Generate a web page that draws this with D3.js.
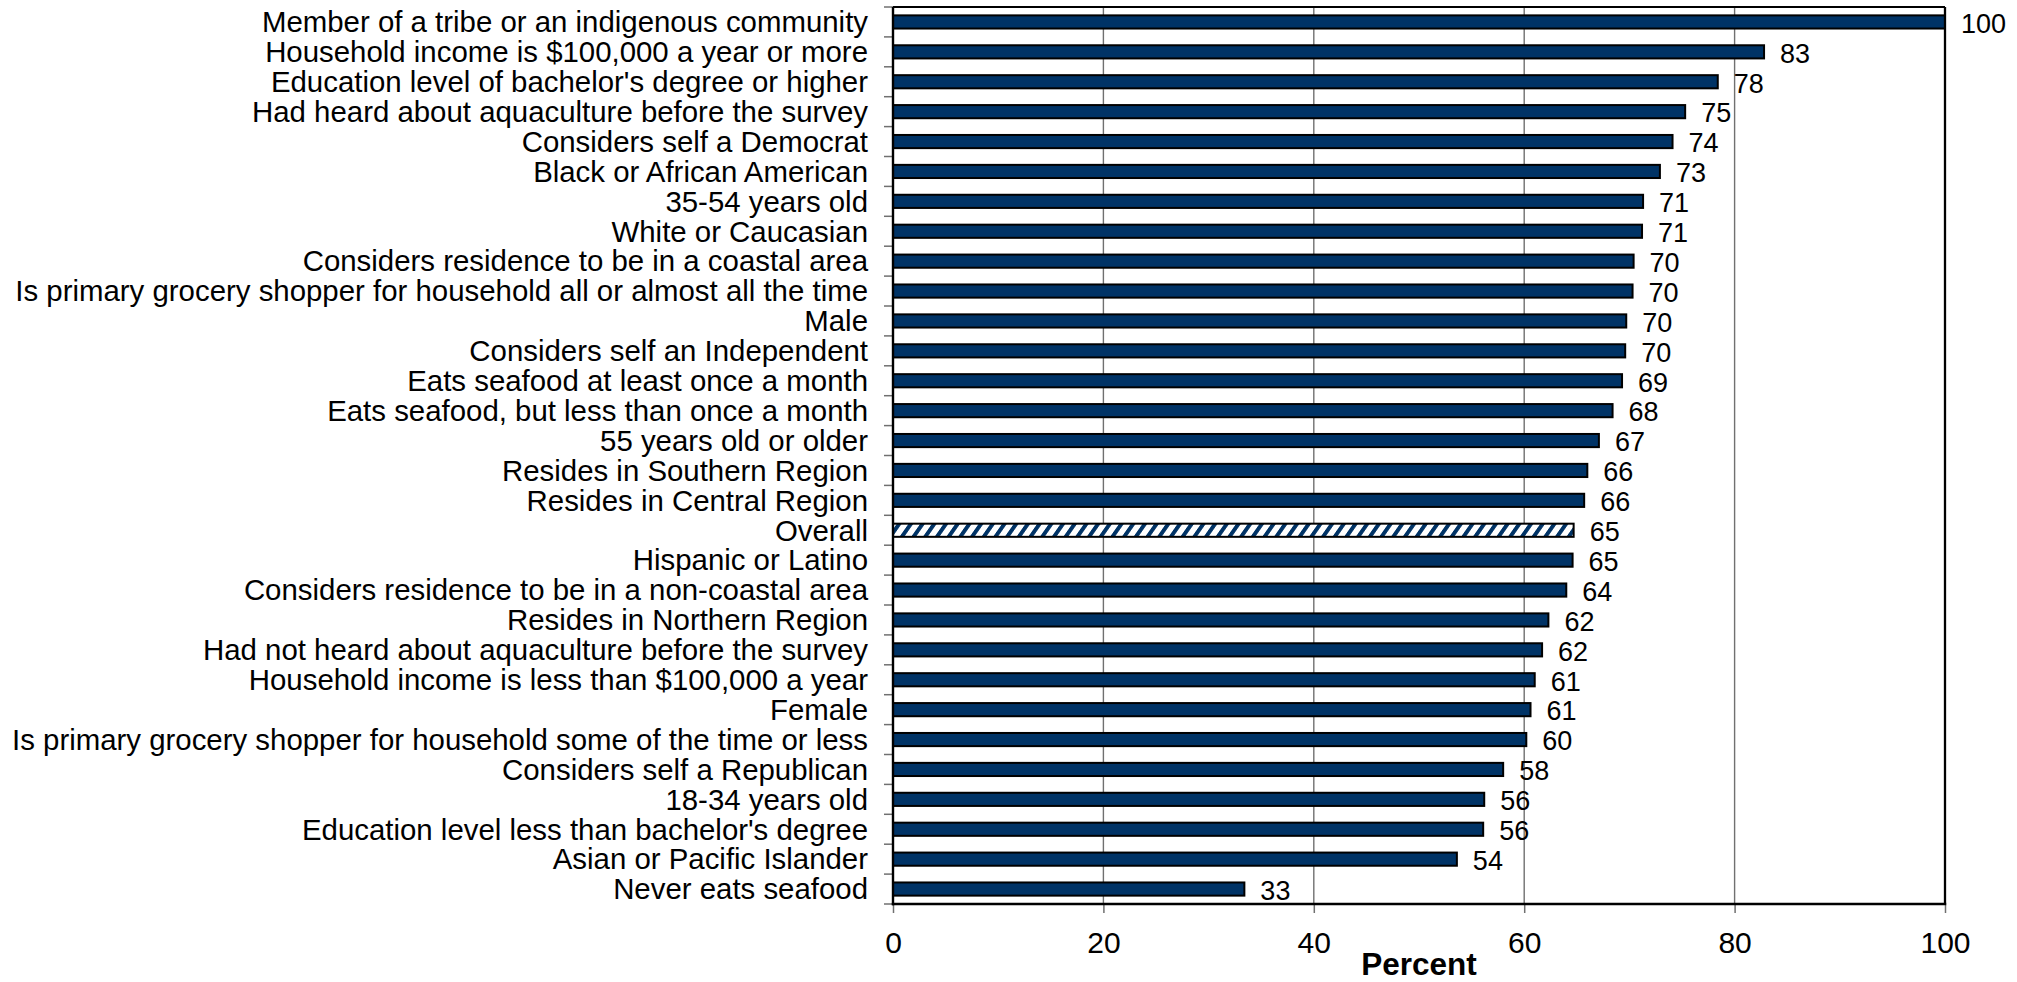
<!DOCTYPE html>
<html>
<head>
<meta charset="utf-8">
<script src="https://cdn.jsdelivr.net/npm/d3@7/dist/d3.min.js"></script>
<style>
  html, body { margin: 0; padding: 0; background: #ffffff; }
  svg { display: block; font-family: "Liberation Sans", Arial, Helvetica, sans-serif; }
</style>
</head>
<body>
<svg id="chart" width="2017" height="982"></svg>
<script>
const categories = [
  "Member of a tribe or an indigenous community",
  "Household income is $100,000 a year or more",
  "Education level of bachelor's degree or higher",
  "Had heard about aquaculture before the survey",
  "Considers self a Democrat",
  "Black or African American",
  "35-54 years old",
  "White or Caucasian",
  "Considers residence to be in a coastal area",
  "Is primary grocery shopper for household all or almost all the time",
  "Male",
  "Considers self an Independent",
  "Eats seafood at least once a month",
  "Eats seafood, but less than once a month",
  "55 years old or older",
  "Resides in Southern Region",
  "Resides in Central Region",
  "Overall",
  "Hispanic or Latino",
  "Considers residence to be in a non-coastal area",
  "Resides in Northern Region",
  "Had not heard about aquaculture before the survey",
  "Household income is less than $100,000 a year",
  "Female",
  "Is primary grocery shopper for household some of the time or less",
  "Considers self a Republican",
  "18-34 years old",
  "Education level less than bachelor's degree",
  "Asian or Pacific Islander",
  "Never eats seafood"
];
const values = [
  100, 82.8, 78.4, 75.3, 74.1, 72.9, 71.3, 71.2, 70.4, 70.3,
  69.7, 69.6, 69.3, 68.4, 67.1, 66.0, 65.7, 64.7, 64.6, 64.0,
  62.3, 61.7, 61.0, 60.6, 60.2, 58.0, 56.2, 56.1, 53.6, 33.4
];
const xTicks = [0, 20, 40, 60, 80, 100];
const highlightCategory = "Overall";
const xTitle = "Percent";

(function () {
const data = categories.map((c, i) => ({ cat: c, val: values[i] }));

const svg = d3.select("#chart");
const pLeft = 893, pRight = 1945, pTop = 7, pBottom = 904;
const navy = "#003366";

const x = d3.scaleLinear().domain([0, 100]).range([pLeft, pRight]);
const y = d3.scaleBand().domain(categories).range([pTop, pBottom])
  .paddingInner(0.56).paddingOuter(0.28);

// hatch pattern
const defs = svg.append("defs");
const pat = defs.append("pattern")
  .attr("id", "hatch")
  .attr("patternUnits", "userSpaceOnUse")
  .attr("width", 11.7).attr("height", 12)
  .attr("patternTransform", "skewX(-35)");
pat.append("rect").attr("width", 11.7).attr("height", 12).attr("fill", "#ffffff");
pat.append("rect").attr("x", 0).attr("width", 4.8).attr("height", 12).attr("fill", navy);

// gridlines
svg.append("g").selectAll("line")
  .data(xTicks.filter(t => t > 0 && t < 100))
  .join("line")
  .attr("x1", d => x(d)).attr("x2", d => x(d))
  .attr("y1", pTop).attr("y2", pBottom)
  .attr("stroke", "#707070").attr("stroke-width", 1.4);

// bars
svg.append("g").selectAll("rect")
  .data(data)
  .join("rect")
  .attr("x", x(0))
  .attr("y", d => y(d.cat))
  .attr("width", d => x(d.val) - x(0))
  .attr("height", y.bandwidth())
  .attr("fill", d => d.cat === highlightCategory ? "url(#hatch)" : navy)
  .attr("stroke", "#000000")
  .attr("stroke-width", 2);

// value labels
svg.append("g").selectAll("text")
  .data(data)
  .join("text")
  .attr("x", d => x(d.val) + 16)
  .attr("y", d => y(d.cat) + y.bandwidth() / 2)
  .attr("dy", "0.4em")
  .attr("font-size", 27)
  .attr("fill", "#000")
  .text(d => d3.format(".0f")(d.val));

// y-axis tick marks at band boundaries
const boundaries = categories.map(c => y(c) - (y.step() - y.bandwidth()) / 2);
boundaries.push(pBottom);
svg.append("g").selectAll("line")
  .data(boundaries)
  .join("line")
  .attr("x1", pLeft - 9).attr("x2", pLeft)
  .attr("y1", d => d).attr("y2", d => d)
  .attr("stroke", "#707070").attr("stroke-width", 1.5);

// category labels
svg.append("g").selectAll("text")
  .data(categories)
  .join("text")
  .attr("x", 868)
  .attr("y", d => y(d) + y.bandwidth() / 2)
  .attr("dy", "0.35em")
  .attr("text-anchor", "end")
  .attr("font-size", 29.4)
  .attr("fill", "#000")
  .text(d => d);

// x axis
const xAxis = svg.append("g")
  .attr("transform", `translate(0,${pBottom})`)
  .call(d3.axisBottom(x).tickValues(xTicks).tickSize(9).tickPadding(18.5).tickFormat(d3.format("d")));
xAxis.select(".domain").remove();
xAxis.selectAll(".tick line").attr("stroke", "#707070").attr("stroke-width", 1.5);
xAxis.selectAll(".tick text")
  .attr("font-size", 30)
  .attr("font-family", "\"Liberation Sans\", Arial, sans-serif")
  .attr("fill", "#000");

// frame
svg.append("line").attr("x1", pLeft).attr("x2", pRight).attr("y1", pTop).attr("y2", pTop)
  .attr("stroke", "#000").attr("stroke-width", 1.8);
svg.append("line").attr("x1", pRight).attr("x2", pRight).attr("y1", pTop).attr("y2", pBottom)
  .attr("stroke", "#000").attr("stroke-width", 2.3);
svg.append("line").attr("x1", pLeft).attr("x2", pLeft).attr("y1", pTop).attr("y2", pBottom + 1.2)
  .attr("stroke", "#000").attr("stroke-width", 2.4);
svg.append("line").attr("x1", pLeft - 1.2).attr("x2", pRight + 1.2).attr("y1", pBottom).attr("y2", pBottom)
  .attr("stroke", "#000").attr("stroke-width", 2.6);

// x title
svg.append("text")
  .attr("x", (pLeft + pRight) / 2)
  .attr("y", 975)
  .attr("text-anchor", "middle")
  .attr("font-size", 31.5)
  .attr("font-weight", "bold")
  .attr("fill", "#000")
  .text(xTitle);
})();
</script>
</body>
</html>
